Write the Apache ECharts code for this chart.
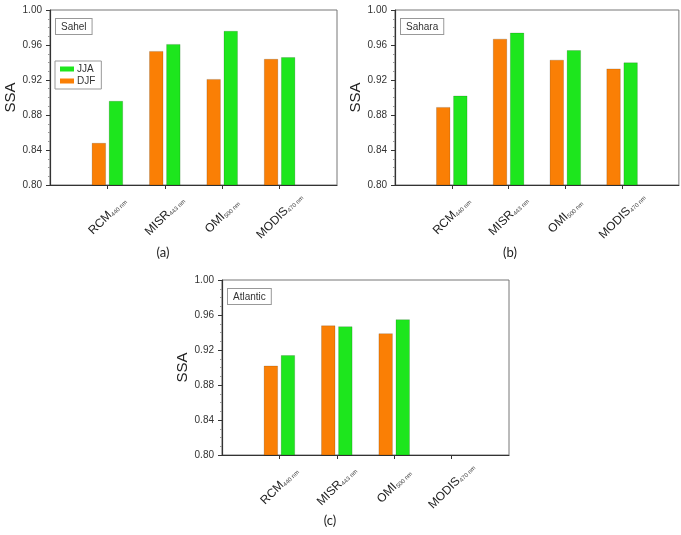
<!DOCTYPE html>
<html>
<head>
<meta charset="utf-8">
<script src="https://cdn.jsdelivr.net/npm/echarts@6/dist/echarts.min.js"></script>
<style>
  html, body { margin: 0; padding: 0; background: #fff; }
  #chart { width: 681px; height: 535px; }
</style>
</head>
<body>
<div id="chart"></div>
<script>
// categories (empty slots at both ends give the 0..5 axis range)
var categories = ['', 'RCM', 'MISR', 'OMI', 'MODIS', ''];
var subscripts = { RCM: '440 nm', MISR: '443 nm', OMI: '500 nm', MODIS: '470 nm' };
var yTicks = [0.80, 0.84, 0.88, 0.92, 0.96, 1.00];

// SSA values, per panel
var sahelDJF = [null, 0.848, 0.953, 0.921, 0.944, null];
var sahelJJA = [null, 0.896, 0.961, 0.976, 0.946, null];
var saharaDJF = [null, 0.889, 0.967, 0.943, 0.933, null];
var saharaJJA = [null, 0.902, 0.974, 0.954, 0.940, null];
var atlanticDJF = [null, 0.902, 0.948, 0.939, null, null];
var atlanticJJA = [null, 0.914, 0.947, 0.955, null, null];

var regions = ['Sahel', 'Sahara', 'Atlantic'];
var panelNames = ['(a)', '(b)', '(c)'];

var orange = '#FA7F05';
var green = '#1DE61D';
var font = "'Liberation Sans', Arial, sans-serif";

var grids = [
    { left: 50, top: 10, width: 287, height: 175 },
    { left: 395, top: 10, width: 287, height: 175 },
    { left: 222, top: 280, width: 287, height: 175 }
];

function xAxisFor(i) {
    return {
        type: 'category',
        gridIndex: i,
        data: categories,
        boundaryGap: false,
        axisLine: { lineStyle: { color: '#333', width: 1.2 } },
        axisTick: {
            length: 4,
            lineStyle: { color: '#333' },
            interval: function(idx, val) { return val !== ''; }
        },
        axisLabel: {
            interval: 0,
            rotate: 45,
            align: 'center',
            verticalAlign: 'middle',
            margin: 31,
            color: '#222',
            fontFamily: font,
            formatter: function(v) {
                if (!v) return '';
                return '{m|' + v + '}{s|' + subscripts[v] + '}';
            },
            rich: {
                m: { fontSize: 12, fontFamily: font, color: '#222' },
                s: { fontSize: 6, fontFamily: font, color: '#444', verticalAlign: 'bottom', padding: [5, 0, 0, 0] }
            }
        },
        splitLine: { show: false }
    };
}

function yAxisFor(i) {
    return {
        type: 'value',
        gridIndex: i,
        min: yTicks[0],
        max: yTicks[yTicks.length - 1],
        interval: 0.04,
        name: 'SSA',
        nameLocation: 'middle',
        nameGap: 31,
        nameTextStyle: { fontSize: 15, fontFamily: font, color: '#222' },
        axisLine: { show: true, lineStyle: { color: '#333', width: 1.2 } },
        axisTick: { show: true, length: 4, lineStyle: { color: '#333' } },
        minorTick: { show: true, splitNumber: 4, length: 2, lineStyle: { color: '#999' } },
        axisLabel: {
            fontSize: 10,
            fontFamily: font,
            color: '#333',
            margin: 8,
            formatter: function(v) { return v.toFixed(2); }
        },
        splitLine: { show: false }
    };
}

function barSeries(name, data, i, color) {
    return {
        name: name,
        type: 'bar',
        xAxisIndex: i,
        yAxisIndex: i,
        data: data,
        barWidth: 14,
        barGap: '22%',
        itemStyle: { color: color, borderColor: 'rgba(0,0,0,0.3)', borderWidth: 0.5 }
    };
}

var djf = [sahelDJF, saharaDJF, atlanticDJF];
var jja = [sahelJJA, saharaJJA, atlanticJJA];
var series = [];
for (var i = 0; i < 3; i++) {
    series.push(barSeries('DJF', djf[i], i, orange));
    series.push(barSeries('JJA', jja[i], i, green));
}

// region boxes + panel letters
var graphics = [];
for (var k = 0; k < 3; k++) {
    graphics.push({
        type: 'text',
        left: grids[k].left + 5,
        top: grids[k].top + 8,
        style: {
            text: regions[k],
            fontSize: 10,
            fontFamily: font,
            fill: '#333',
            borderColor: '#999',
            borderWidth: 1,
            backgroundColor: '#fff',
            padding: [3, 5, 2, 5]
        }
    });
}
var letterPos = [[163, 253], [510, 253], [330, 521]];
for (var p = 0; p < 3; p++) {
    graphics.push({
        type: 'text',
        x: letterPos[p][0],
        y: letterPos[p][1],
        style: {
            text: panelNames[p],
            fontSize: 13,
            fontFamily: "Lato, 'DejaVu Sans', sans-serif",
            fill: '#222',
            align: 'center',
            verticalAlign: 'middle'
        }
    });
}

var myChart = echarts.init(document.getElementById('chart'));
var option = {
    animation: false,
    backgroundColor: '#fff',
    grid: grids.map(function(g) {
        return { left: g.left, top: g.top, width: g.width, height: g.height, show: true,
            borderColor: '#777', borderWidth: 1, backgroundColor: 'transparent' };
    }),
    xAxis: [xAxisFor(0), xAxisFor(1), xAxisFor(2)],
    yAxis: [yAxisFor(0), yAxisFor(1), yAxisFor(2)],
    legend: {
        data: ['JJA', 'DJF'],
        orient: 'vertical',
        left: 55,
        top: 61,
        itemWidth: 14,
        itemHeight: 5,
        itemGap: 0,
        padding: [2, 6, 2, 5],
        borderColor: '#999',
        borderWidth: 1,
        backgroundColor: '#fff',
        icon: 'rect',
        selectedMode: false,
        itemStyle: { borderWidth: 0 },
        textStyle: { fontSize: 10, fontFamily: font, color: '#333', lineHeight: 12, padding: [0, 0, 0, -2] }
    },
    graphic: graphics,
    series: series
};
myChart.setOption(option);
</script>
</body>
</html>
